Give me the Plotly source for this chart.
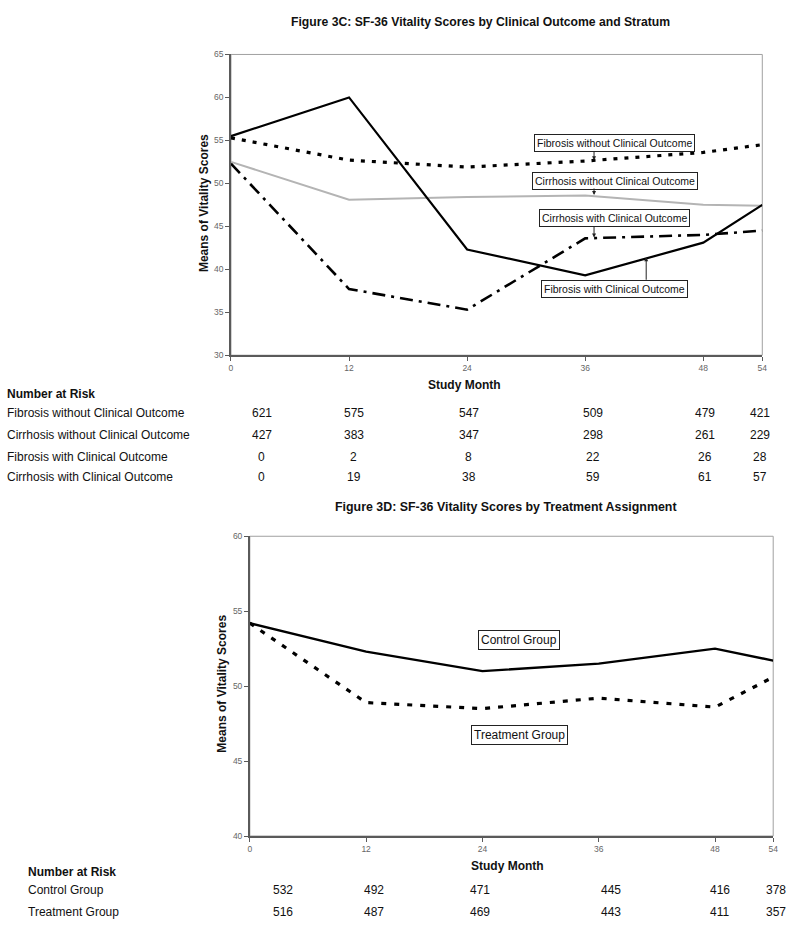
import plotly.graph_objects as go

W, H = 800, 934
FONT = "Liberation Sans, Arial, sans-serif"

# ---------------- data ----------------
months = [0, 12, 24, 36, 48, 54]
month_ticks = [0, 12, 24, 36, 48, 54]

fib_without = [55.3, 52.7, 51.9, 52.6, 53.6, 54.5]
cir_without = [52.5, 48.1, 48.4, 48.6, 47.5, 47.4]
fib_with = [55.5, 60.0, 42.3, 39.3, 43.1, 47.5]
cir_with = [52.3, 37.7, 35.3, 43.6, 44.0, 44.5]

control = [54.2, 52.3, 51.0, 51.5, 52.5, 51.7]
treatment = [54.2, 48.9, 48.5, 49.2, 48.6, 50.6]

top_groups = ["Fibrosis without Clinical Outcome", "Cirrhosis without Clinical Outcome",
              "Fibrosis with Clinical Outcome", "Cirrhosis with Clinical Outcome"]
top_risk = [[621, 575, 547, 509, 479, 421],
            [427, 383, 347, 298, 261, 229],
            [0, 2, 8, 22, 26, 28],
            [0, 19, 38, 59, 61, 57]]

bottom_groups = ["Control Group", "Treatment Group"]
bottom_risk = [[532, 492, 471, 445, 416, 378],
               [516, 487, 469, 443, 411, 357]]

top_title = "Figure 3C: SF-36 Vitality Scores by Clinical Outcome and Stratum"
bottom_title = "Figure 3D: SF-36 Vitality Scores by Treatment Assignment"
ytitle = "Means of Vitality Scores"
xtitle = "Study Month"

# ---------------- layout helpers ----------------
def px(x):
    return x / W

def py(y):
    return 1 - y / H

fig = go.Figure()

# top chart traces
fig.add_trace(go.Scatter(x=months, y=fib_without, mode="lines", xaxis="x", yaxis="y",
                         line=dict(color="black", width=3.2, dash="4px,7px")))
fig.add_trace(go.Scatter(x=months, y=cir_without, mode="lines", xaxis="x", yaxis="y",
                         line=dict(color="#b4b4b4", width=2)))
fig.add_trace(go.Scatter(x=months, y=fib_with, mode="lines", xaxis="x", yaxis="y",
                         line=dict(color="black", width=2.2)))
fig.add_trace(go.Scatter(x=months, y=cir_with, mode="lines", xaxis="x", yaxis="y",
                         line=dict(color="black", width=2.6, dash="13px,6px,3px,6px")))

# bottom chart traces
fig.add_trace(go.Scatter(x=months, y=control, mode="lines", xaxis="x2", yaxis="y2",
                         line=dict(color="black", width=2.4)))
fig.add_trace(go.Scatter(x=months, y=treatment, mode="lines", xaxis="x2", yaxis="y2",
                         line=dict(color="black", width=3.2, dash="5px,8px")))

axis_common = dict(showgrid=False, zeroline=False, showline=True, linecolor="#5a5a5a",
                   linewidth=1.5, ticks="outside", ticklen=4, tickcolor="#5a5a5a",
                   tickfont=dict(family=FONT, size=8.5, color="#666666"), fixedrange=True)

fig.update_layout(
    width=W, height=H,
    margin=dict(l=0, r=0, t=0, b=0),
    paper_bgcolor="white", plot_bgcolor="white",
    showlegend=False,
    xaxis=dict(domain=[px(231), px(767)], range=[0, 54], tickvals=month_ticks,
               anchor="y", **axis_common),
    yaxis=dict(domain=[py(354), py(50)], range=[30, 65], tickvals=list(range(30, 66, 5)),
               anchor="x", **axis_common),
    xaxis2=dict(domain=[px(250), px(778)], range=[0, 54], tickvals=month_ticks,
                anchor="y2", **axis_common),
    yaxis2=dict(domain=[py(840), py(537)], range=[40, 60], tickvals=list(range(40, 61, 5)),
                anchor="x2", **axis_common),
)

# light frame (top/right borders)
for xr, yr in [("x domain", "y domain"), ("x2 domain", "y2 domain")]:
    fig.add_shape(type="rect", xref=xr, yref=yr, x0=0, x1=1, y0=0, y1=1,
                  line=dict(color="#a0a0a0", width=1), layer="below")

ann = []

def text(x, y, t, size=12, bold=False, anchor="left", color="#111111", angle=0):
    ann.append(dict(x=px(x), y=py(y), xref="paper", yref="paper", text=("<b>%s</b>" % t) if bold else t,
                    showarrow=False, xanchor=anchor, yanchor="middle", textangle=angle,
                    font=dict(family=FONT, size=size, color=color)))

# titles
text(483, 17, top_title, size=12.2, bold=True, anchor="center")
text(508, 507, bottom_title, size=12.4, bold=True, anchor="center")

# axis titles
text(204, 200, ytitle, size=12, bold=True, anchor="center", angle=-90)
text(467, 384, xtitle, size=12, bold=True, anchor="center")
text(222, 686, ytitle, size=12, bold=True, anchor="center", angle=-90)
text(510, 870, xtitle, size=12, bold=True, anchor="center")

# number at risk tables
top_cols = [262, 355, 471, 596, 709, 765]
top_rows = [412, 435, 457, 477]
text(3, 393, "Number at Risk", size=12, bold=True)
for name, vals, yy in zip(top_groups, top_risk, top_rows):
    text(3, yy, name, size=12)
    for v, xx in zip(vals, top_cols):
        text(xx, yy, str(v), size=12, anchor="center")

bot_cols = [283, 375, 482, 614, 724, 781]
bot_rows = [895, 917]
text(24, 876, "Number at Risk", size=12, bold=True)
for name, vals, yy in zip(bottom_groups, bottom_risk, bot_rows):
    text(24, yy, name, size=12)
    for v, xx in zip(vals, bot_cols):
        text(xx, yy, str(v), size=12, anchor="center")

# labelled boxes in chart
def box(xref, yref, x, y, t, size):
    ann.append(dict(x=x, y=y, xref=xref, yref=yref, text=t, showarrow=False,
                    xanchor="center", yanchor="middle", bgcolor="white",
                    bordercolor="#222222", borderwidth=1, borderpad=2,
                    font=dict(family=FONT, size=size, color="#111111")))

def arrow(xref, yref, x, y, ay):
    ann.append(dict(x=x, y=y, xref=xref, yref=yref, text="", showarrow=True,
                    ax=0, ay=ay, arrowhead=2, arrowsize=0.8, arrowwidth=1,
                    arrowcolor="#222222", standoff=0, startstandoff=0))

box("x", "y", 39.0, 54.64, top_groups[0], 10.5)
box("x", "y", 39.0, 50.26, top_groups[1], 10.5)
box("x", "y", 39.0, 46.0, top_groups[3], 10.5)
box("x", "y", 39.0, 37.7, top_groups[2], 10.5)
arrow("x", "y", 36.9, 52.7, -10)
arrow("x", "y", 36.9, 48.65, -8)
arrow("x", "y", 36.9, 43.7, -12)
arrow("x", "y", 42.2, 41.4, 24)

box("x2", "y2", 27.8, 53.1, bottom_groups[0], 12)
box("x2", "y2", 27.8, 46.76, bottom_groups[1], 12)

fig.update_layout(annotations=ann)

fig.write_html("out.html", config={"displayModeBar": False},
               post_script="document.body.style.margin='0';document.body.style.padding='0';document.body.style.overflow='hidden';")
